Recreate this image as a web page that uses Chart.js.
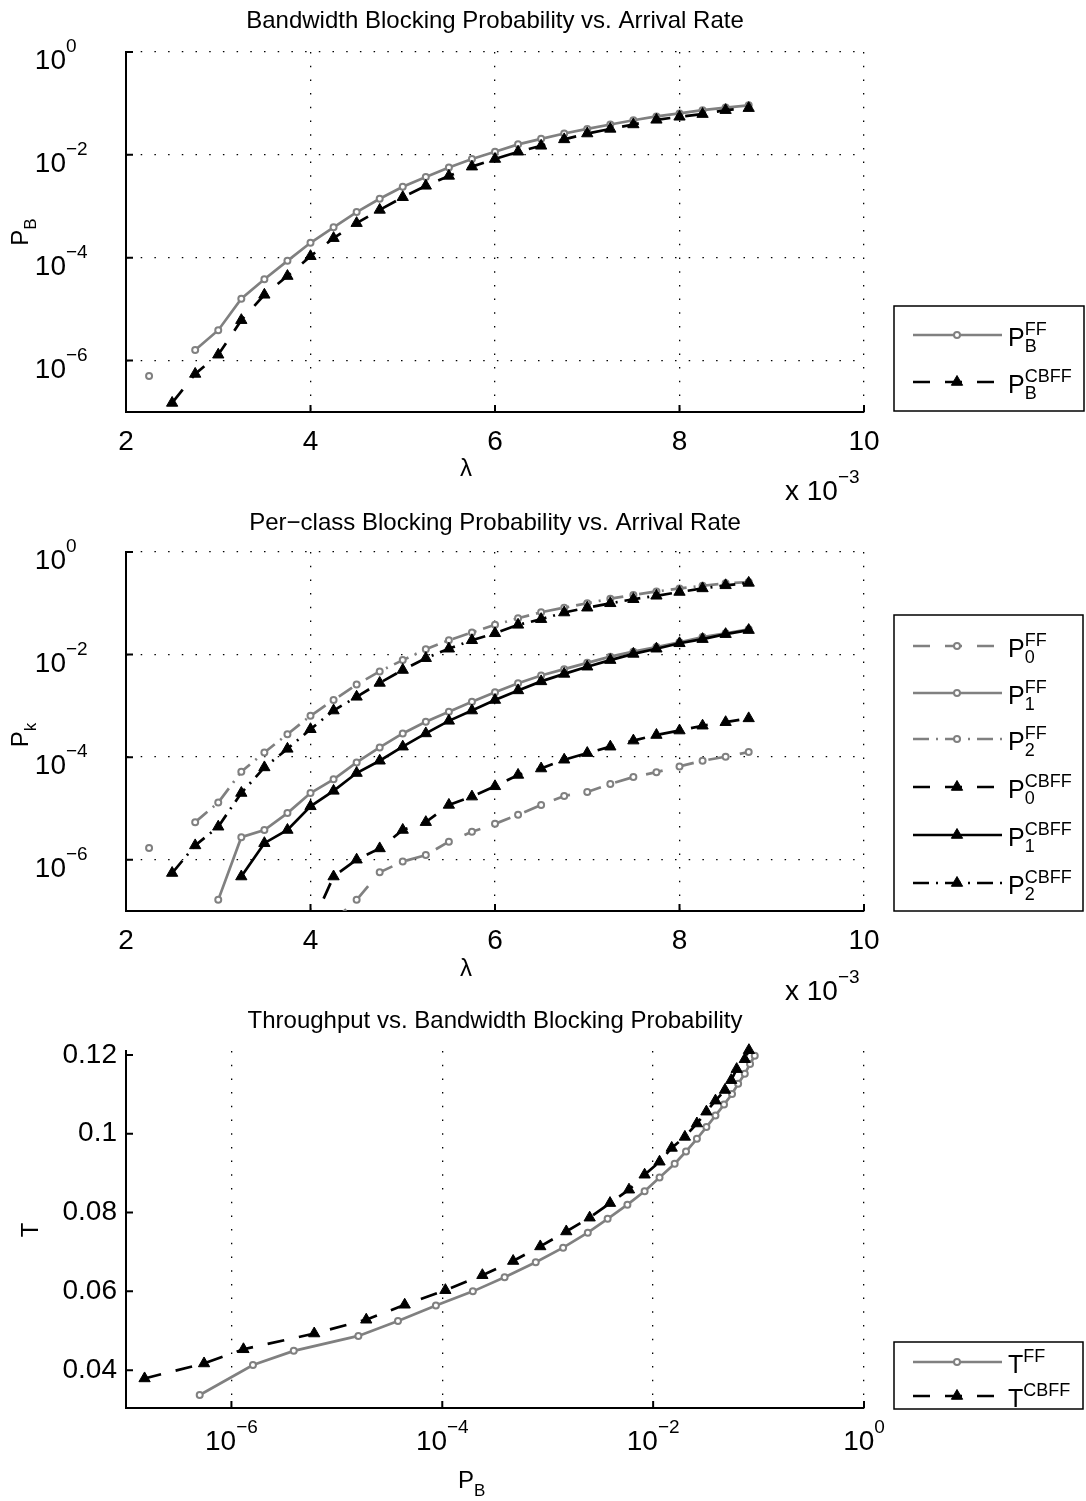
<!DOCTYPE html>
<html>
<head>
<meta charset="utf-8">
<script src="https://cdn.jsdelivr.net/npm/chart.js@4.4.1/dist/chart.umd.min.js"></script>
<style>
  html, body { margin: 0; padding: 0; background: #fff; }
  #page { position: relative; width: 1086px; height: 1501px; }
  canvas { position: absolute; left: 0; }
</style>
</head>
<body>
<div id="page">
  <canvas id="pbChart" width="1086" height="500" style="top:0"></canvas>
  <canvas id="pkChart" width="1086" height="500" style="top:500px"></canvas>
  <canvas id="tChart" width="1086" height="501" style="top:1000px"></canvas>
</div>
<script>
// arrival rate (x 10^-3)
const lambda = [2.25, 2.5, 2.75, 3.0, 3.25, 3.5, 3.75, 4.0, 4.25, 4.5, 4.75, 5.0, 5.25, 5.5,
                5.75, 6.0, 6.25, 6.5, 6.75, 7.0, 7.25, 7.5, 7.75, 8.0, 8.25, 8.5, 8.75];

// bandwidth blocking probability
const pbFF = [5.0e-7, null, 1.6e-6, 3.9e-6, 1.6e-5, 3.8e-5, 8.7e-5, 1.95e-4, 3.9e-4, 7.7e-4, 1.4e-3, 2.4e-3, 3.7e-3, 5.7e-3,
              8.3e-3, 1.15e-2, 1.6e-2, 2.05e-2, 2.6e-2, 3.2e-2, 3.9e-2, 4.7e-2, 5.6e-2, 6.4e-2, 7.4e-2, 8.3e-2, 9.2e-2];
const pbCBFF = [null, 1.5e-7, 5.5e-7, 1.3e-6, 6.1e-6, 1.9e-5, 4.4e-5, 1.07e-4, 2.4e-4, 4.7e-4, 8.5e-4, 1.5e-3, 2.5e-3, 3.9e-3,
                5.9e-3, 8.3e-3, 1.15e-2, 1.5e-2, 2.0e-2, 2.6e-2, 3.2e-2, 3.9e-2, 4.8e-2, 5.5e-2, 6.2e-2, 7.4e-2, 8.1e-2];

// per-class blocking probability
const p0FF = [null, null, null, null, null, null, null, null, 6.5e-8, 1.65e-7, 5.7e-7, 9.2e-7, 1.23e-6, 2.25e-6,
              3.5e-6, 5.0e-6, 7.5e-6, 1.17e-5, 1.75e-5, 2.1e-5, 3.0e-5, 4.1e-5, 5.1e-5, 6.6e-5, 8.5e-5, 1.02e-4, 1.26e-4];
const p1FF = [null, null, null, 1.65e-7, 2.75e-6, 3.8e-6, 8.1e-6, 2.0e-5, 3.7e-5, 7.9e-5, 1.55e-4, 2.9e-4, 4.9e-4, 7.7e-4,
              1.2e-3, 1.85e-3, 2.75e-3, 3.9e-3, 5.2e-3, 6.9e-3, 9.1e-3, 1.14e-2, 1.4e-2, 1.74e-2, 2.2e-2, 2.6e-2, 3.1e-2];
const p2FF = [1.7e-6, null, 5.4e-6, 1.3e-5, 5.2e-5, 1.23e-4, 2.8e-4, 6.4e-4, 1.3e-3, 2.6e-3, 4.7e-3, 7.8e-3, 1.27e-2, 1.9e-2,
              2.7e-2, 3.8e-2, 5.1e-2, 6.7e-2, 8.2e-2, 0.10, 0.123, 0.145, 0.17, 0.195, 0.22, 0.245, 0.26];
const p0CBFF = [null, null, null, null, null, null, null, 4.7e-8, 4.7e-7, 1.0e-6, 1.66e-6, 3.8e-6, 5.4e-6, 1.17e-5,
                1.7e-5, 2.7e-5, 4.5e-5, 6.0e-5, 8.9e-5, 1.2e-4, 1.6e-4, 2.1e-4, 2.7e-4, 3.3e-4, 4.1e-4, 4.8e-4, 5.7e-4];
const p1CBFF = [null, null, null, null, 4.7e-7, 2.1e-6, 3.8e-6, 1.1e-5, 2.2e-5, 4.9e-5, 8.5e-5, 1.6e-4, 2.9e-4, 5.1e-4,
                8.1e-4, 1.3e-3, 2.0e-3, 3.0e-3, 4.2e-3, 5.8e-3, 7.8e-3, 1.03e-2, 1.3e-2, 1.66e-2, 2.0e-2, 2.5e-2, 3.0e-2];
const p2CBFF = [null, 5.5e-7, 1.9e-6, 4.4e-6, 2.0e-5, 6.3e-5, 1.45e-4, 3.5e-4, 8.1e-4, 1.5e-3, 2.8e-3, 5.0e-3, 8.5e-3, 1.3e-2,
                1.9e-2, 2.6e-2, 3.8e-2, 4.9e-2, 6.6e-2, 8.2e-2, 0.10, 0.12, 0.14, 0.166, 0.195, 0.224, 0.25];

// throughput
const tFF = [0.0337, null, 0.0413, 0.0449, 0.0487, 0.0525, 0.0564, 0.0600, 0.0636, 0.0674, 0.0711, 0.0749, 0.0784, 0.0820,
             0.0854, 0.0889, 0.0924, 0.0955, 0.0987, 0.1017, 0.1046, 0.1074, 0.1101, 0.1127, 0.1152, 0.1177, 0.1198];
const tCBFF = [null, 0.0379, 0.0417, 0.0453, 0.0493, 0.0528, 0.0566, 0.0603, 0.0641, 0.0677, 0.0714, 0.0752, 0.0787, 0.0824,
               0.0858, 0.0896, 0.0929, 0.0964, 0.0992, 0.1026, 0.1056, 0.1084, 0.1111, 0.1136, 0.1164, 0.1189, 0.1212];

// tick values
const lambdaTicks = [2, 4, 6, 8, 10];
const probTicks = [1e-6, 1e-4, 1e-2, 1];
const tTicks = [0.04, 0.06, 0.08, 0.1, 0.12];

const FONT = '"Liberation Sans", Arial, Helvetica, sans-serif';
const GRAY = '#808080';
const DASH = [17, 15];
const DASHDOT = [16, 7, 2, 7];

const styleFF = {
    borderColor: GRAY, backgroundColor: '#fff', borderWidth: 2.7,
    pointStyle: 'circle', pointRadius: 3, pointHoverRadius: 3, pointBorderWidth: 2,
    pointBorderColor: GRAY, pointBackgroundColor: '#fff'
};
const styleCB = {
    borderColor: '#000', backgroundColor: '#000', borderWidth: 2.7,
    pointStyle: 'triangle', pointRadius: 6.5, pointHoverRadius: 6.5, pointBorderWidth: 1,
    pointBorderColor: '#000', pointBackgroundColor: '#000'
};

function makeSet(data, style, dash, order){
    return Object.assign({}, style, {
        data: data,
        borderDash: dash || [],
        tension: 0,
        fill: false,
        spanGaps: false,
        order: order,
        clip: {left: 0, top: 10, right: 10, bottom: 0}
    });
}

function byLambda(values){
    return lambda.map((x, i) => ({x: x, y: values[i]}));
}

function pairs(xs, ys){
    let out = [];
    xs.forEach((v, i) => {
        if (v != null && ys[i] != null) out.push({x: v, y: ys[i]});
    });
    return out;
}

// text with tex-like super/subscript
function texText(ctx, x, y, base, sup, sub, o){
    let size = o.size, small = o.small || Math.round(size * 0.72);
    ctx.font = size + 'px ' + FONT;
    let wb = ctx.measureText(base).width;
    ctx.font = small + 'px ' + FONT;
    let ws = sup ? ctx.measureText(sup).width : 0;
    let wd = sub ? ctx.measureText(sub).width : 0;
    let total = wb + Math.max(ws, wd);
    let x0 = x;
    if (o.align === 'center') x0 = x - total / 2;
    else if (o.align === 'right') x0 = x - total;
    else if (o.align === 'baseRight') x0 = x - wb;
    else if (o.align === 'baseCenter') x0 = x - wb / 2;
    ctx.fillStyle = '#000';
    ctx.textAlign = 'left';
    ctx.textBaseline = 'alphabetic';
    ctx.font = size + 'px ' + FONT;
    ctx.fillText(base, x0, y);
    ctx.font = small + 'px ' + FONT;
    if (sup) ctx.fillText(sup, x0 + wb, y + o.supDy);
    if (sub) ctx.fillText(sub, x0 + wb, y + o.subDy);
}

function rotatedText(ctx, x, y, base, sub){
    ctx.save();
    ctx.translate(x, y);
    ctx.rotate(-Math.PI / 2);
    texText(ctx, 0, 0, base, null, sub, {size: 24, small: 17, subDy: 8, align: 'center'});
    ctx.restore();
}

function plainText(ctx, x, y, str, size, align, baseline){
    ctx.font = size + 'px ' + FONT;
    ctx.fillStyle = '#000';
    ctx.textAlign = align || 'center';
    ctx.textBaseline = baseline || 'alphabetic';
    ctx.fillText(str, x, y);
}

function drawMarker(ctx, ds, x, y){
    ctx.save();
    ctx.setLineDash([]);
    ctx.lineWidth = ds.pointBorderWidth;
    ctx.strokeStyle = ds.pointBorderColor;
    ctx.fillStyle = ds.pointBackgroundColor;
    let r = ds.pointRadius;
    ctx.beginPath();
    if (ds.pointStyle === 'triangle') {
        let rad = 0;
        ctx.moveTo(x + Math.sin(rad) * r, y - Math.cos(rad) * r);
        rad += Math.PI * 2 / 3;
        ctx.lineTo(x + Math.sin(rad) * r, y - Math.cos(rad) * r);
        rad += Math.PI * 2 / 3;
        ctx.lineTo(x + Math.sin(rad) * r, y - Math.cos(rad) * r);
        ctx.closePath();
    } else {
        ctx.arc(x, y, r, 0, Math.PI * 2);
    }
    ctx.fill();
    ctx.stroke();
    ctx.restore();
}

// legend box with line samples taken from the datasets
function drawLegend(ctx, chart, box, rows){
    ctx.save();
    ctx.fillStyle = '#fff';
    ctx.fillRect(box[0], box[1], box[2] - box[0], box[3] - box[1]);
    ctx.strokeStyle = '#000';
    ctx.lineWidth = 1.5;
    ctx.setLineDash([]);
    ctx.strokeRect(box[0], box[1], box[2] - box[0], box[3] - box[1]);
    rows.forEach(function(row){
        let ds = chart.data.datasets[row.ds];
        ctx.save();
        ctx.strokeStyle = ds.borderColor;
        ctx.lineWidth = ds.borderWidth;
        ctx.setLineDash(ds.borderDash || []);
        ctx.beginPath();
        ctx.moveTo(913, row.y);
        ctx.lineTo(1002, row.y);
        ctx.stroke();
        ctx.restore();
        drawMarker(ctx, ds, 957, row.y);
        texText(ctx, 1008, row.y + 11, row.base, row.sup, row.sub,
            {size: 25, small: 18, supDy: -11, subDy: 6, align: 'left'});
    });
    ctx.restore();
}

function tickStubs(ctx, a, xs, ys){
    ctx.strokeStyle = '#000';
    ctx.lineWidth = 2;
    ctx.setLineDash([]);
    ctx.beginPath();
    xs.ticks.forEach(function(t){
        let px = xs.getPixelForValue(t.value);
        ctx.moveTo(px, a.bottom);
        ctx.lineTo(px, a.bottom - 7);
    });
    ys.ticks.forEach(function(t){
        let py = ys.getPixelForValue(t.value);
        ctx.moveTo(a.left, py);
        ctx.lineTo(a.left + 7, py);
    });
    ctx.stroke();
}

function expLabel(v){
    let e = Math.round(Math.log10(v));
    return e < 0 ? '\u2212' + (-e) : String(e);
}

function logYLabels(ctx, ys){
    ys.ticks.forEach(function(t){
        let py = ys.getPixelForValue(t.value);
        texText(ctx, 66, py + 17, '10', expLabel(t.value), null, {size: 28, small: 19, supDy: -17, align: 'baseRight'});
    });
}

function lambdaXLabels(ctx, a, xs){
    xs.ticks.forEach(function(t){
        plainText(ctx, xs.getPixelForValue(t.value), a.bottom + 38, String(t.value), 28, 'center');
    });
    plainText(ctx, 466, 476, '\u03bb', 24, 'center');
    texText(ctx, 785, 500, 'x 10', '\u22123', null, {size: 28, small: 19, supDy: -17, align: 'left'});
}

function gridOpts(show){
    return {
        display: true, drawOnChartArea: show, drawTicks: false,
        color: '#000', lineWidth: 1.3
    };
}
const borderOpts = {display: true, color: '#000', width: 2, dash: [1.5, 12.2]};

function fixedTicks(values){
    return function(scale){
        scale.ticks = values.map(v => ({value: v}));
    };
}

function baseOptions(xScale, yScale, padBottom){
    return {
        responsive: false,
        animation: false,
        devicePixelRatio: 1,
        layout: {padding: {left: 126, right: 222, top: 52, bottom: padBottom}},
        plugins: {legend: {display: false}, title: {display: false}, tooltip: {enabled: false}},
        scales: {x: xScale, y: yScale},
        events: []
    };
}

function lambdaScale(){
    return {
        type: 'linear', min: 2, max: 10,
        afterBuildTicks: fixedTicks(lambdaTicks),
        ticks: {display: false},
        grid: gridOpts(true), border: borderOpts,
        afterFit: function(s){ s.height = 0; }
    };
}

function probScale(axis){
    return {
        type: 'logarithmic', min: 1e-7, max: 1,
        afterBuildTicks: fixedTicks(probTicks),
        ticks: {display: false},
        grid: gridOpts(true), border: borderOpts,
        afterFit: function(s){ if (axis === 'x') s.height = 0; else s.width = 0; }
    };
}

// --- chart 1: bandwidth blocking probability
new Chart(document.getElementById('pbChart'), {
    type: 'line',
    data: {
        datasets: [
            makeSet(byLambda(pbFF), styleFF, [], 1),
            makeSet(byLambda(pbCBFF), styleCB, DASH, 0)
        ]
    },
    options: baseOptions(lambdaScale(), probScale('y'), 88),
    plugins: [{
        id: 'pbDecor',
        afterDraw: function(chart){
            let ctx = chart.ctx, a = chart.chartArea, xs = chart.scales.x, ys = chart.scales.y;
            ctx.save();
            tickStubs(ctx, a, xs, ys);
            logYLabels(ctx, ys);
            lambdaXLabels(ctx, a, xs);
            plainText(ctx, 495, 28, 'Bandwidth Blocking Probability vs. Arrival Rate', 24, 'center');
            rotatedText(ctx, 28, 232, 'P', 'B');
            drawLegend(ctx, chart, [894, 306, 1084, 411], [
                {ds: 0, y: 335, base: 'P', sup: 'FF', sub: 'B'},
                {ds: 1, y: 382, base: 'P', sup: 'CBFF', sub: 'B'}
            ]);
            ctx.restore();
        }
    }]
});

// --- chart 2: per-class blocking probability
new Chart(document.getElementById('pkChart'), {
    type: 'line',
    data: {
        datasets: [
            makeSet(byLambda(p0FF), styleFF, DASH, 5),
            makeSet(byLambda(p1FF), styleFF, [], 4),
            makeSet(byLambda(p2FF), styleFF, DASHDOT, 3),
            makeSet(byLambda(p0CBFF), styleCB, DASH, 2),
            makeSet(byLambda(p1CBFF), styleCB, [], 1),
            makeSet(byLambda(p2CBFF), styleCB, DASHDOT, 0)
        ]
    },
    options: baseOptions(lambdaScale(), probScale('y'), 89),
    plugins: [{
        id: 'pkDecor',
        afterDraw: function(chart){
            let ctx = chart.ctx, a = chart.chartArea, xs = chart.scales.x, ys = chart.scales.y;
            ctx.save();
            tickStubs(ctx, a, xs, ys);
            logYLabels(ctx, ys);
            lambdaXLabels(ctx, a, xs);
            plainText(ctx, 495, 30, 'Per\u2212class Blocking Probability vs. Arrival Rate', 24, 'center');
            rotatedText(ctx, 28, 235, 'P', 'k');
            drawLegend(ctx, chart, [894, 115, 1083, 411], [
                {ds: 0, y: 146, base: 'P', sup: 'FF', sub: '0'},
                {ds: 1, y: 193, base: 'P', sup: 'FF', sub: '1'},
                {ds: 2, y: 239, base: 'P', sup: 'FF', sub: '2'},
                {ds: 3, y: 287, base: 'P', sup: 'CBFF', sub: '0'},
                {ds: 4, y: 335, base: 'P', sup: 'CBFF', sub: '1'},
                {ds: 5, y: 383, base: 'P', sup: 'CBFF', sub: '2'}
            ]);
            ctx.restore();
        }
    }]
});

// --- chart 3: throughput vs. bandwidth blocking probability
let tOptions = baseOptions(probScale('x'), {
    type: 'linear', min: 0.0304, max: 0.121,
    afterBuildTicks: fixedTicks(tTicks),
    ticks: {display: false},
    grid: gridOpts(false), border: borderOpts,
    afterFit: function(s){ s.width = 0; }
}, 93);
tOptions.layout.padding.top = 51;

new Chart(document.getElementById('tChart'), {
    type: 'line',
    data: {
        datasets: [
            makeSet(pairs(pbFF, tFF), styleFF, [], 1),
            makeSet(pairs(pbCBFF, tCBFF), styleCB, DASH, 0)
        ]
    },
    options: tOptions,
    plugins: [{
        id: 'tDecor',
        afterDraw: function(chart){
            let ctx = chart.ctx, a = chart.chartArea, xs = chart.scales.x, ys = chart.scales.y;
            ctx.save();
            tickStubs(ctx, a, xs, ys);
            ys.ticks.forEach(function(t){
                plainText(ctx, 117, ys.getPixelForValue(t.value), String(t.value), 28, 'right', 'middle');
            });
            xs.ticks.forEach(function(t){
                texText(ctx, xs.getPixelForValue(t.value), a.bottom + 42, '10', expLabel(t.value), null,
                    {size: 28, small: 19, supDy: -17, align: 'center'});
            });
            plainText(ctx, 495, 28, 'Throughput vs. Bandwidth Blocking Probability', 24, 'center');
            texText(ctx, 466, 488, 'P', null, 'B', {size: 24, small: 17, subDy: 8, align: 'baseCenter'});
            rotatedText(ctx, 38, 230, 'T', null);
            drawLegend(ctx, chart, [894, 342, 1083, 409], [
                {ds: 0, y: 362, base: 'T', sup: 'FF', sub: null},
                {ds: 1, y: 396, base: 'T', sup: 'CBFF', sub: null}
            ]);
            ctx.restore();
        }
    }]
});
</script>
</body>
</html>
